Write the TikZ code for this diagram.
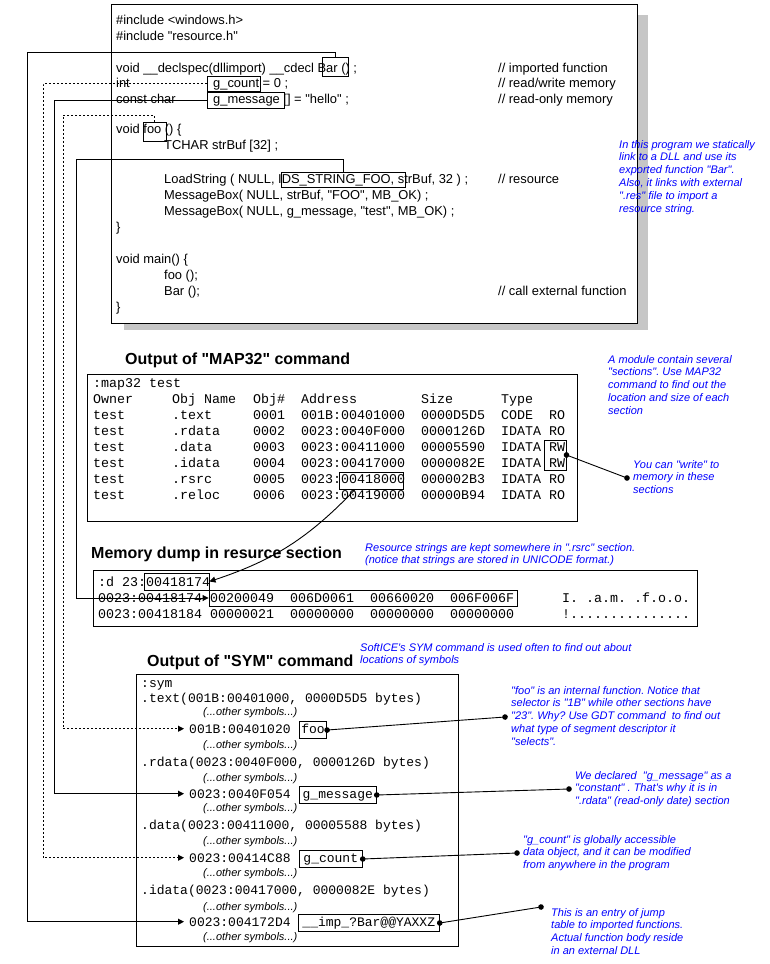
\documentclass[tikz,border=0pt]{standalone}
\usepackage{fontspec}
\setmainfont{Liberation Sans}[Ligatures=TeXOff]
\setmonofont{Liberation Mono}
\usepackage{tikz}
\usepackage{xcolor}
\usetikzlibrary{calc,arrows.meta,positioning,fit}
\definecolor{noteblue}{HTML}{0000FF}
\definecolor{shadowgray}{HTML}{C6C6C6}
\newcommand\codesf{\fontsize{12.9}{15}\selectfont}
\newcommand\maptt{\ttfamily\fontsize{13.33}{16}\selectfont}
\newcommand\symtt{\ttfamily\fontsize{13}{16}\selectfont}
\frenchspacing

\tikzset{
  codetext/.style={anchor=base west, inner sep=0pt, font=\codesf},
  maptext/.style={anchor=base west, inner sep=0pt, font=\maptt},
  symtext/.style={anchor=base west, inner sep=0pt, font=\symtt},
  othertext/.style={anchor=base west, inner sep=0pt, font=\itshape\fontsize{11}{13}\selectfont},
  heading/.style={anchor=base west, inner sep=0pt, font=\bfseries\fontsize{16}{19}\selectfont},
  note/.style={anchor=north west, inner sep=0pt, align=left, text=noteblue, font=\itshape\fontsize{11}{12.8}\selectfont},
  frame/.style={draw, line width=0.9pt},
  markbox/.style={draw, line width=0.9pt, inner sep=0pt},
  symbox/.style={draw, line width=0.9pt, inner xsep=2pt, inner ysep=2.5pt, minimum height=17pt, text height=9pt, text depth=3pt, font=\symtt},
  link/.style={line width=0.9pt, -{Triangle[length=6pt,width=6pt]}},
  dashlink/.style={link, dash pattern=on 2pt off 2pt},
  pinline/.style={line width=0.9pt, {Circle[length=5.5pt]}-{Circle[length=5.5pt]}, shorten <=-2.75pt, shorten >=-2.75pt}
}

\begin{document}
\begin{tikzpicture}[x=1pt,y=-1pt]
  \useasboundingbox (0,0) rectangle (770,964);

  \fill[shadowgray] (124,15) rectangle (648,330);
  \draw[frame, fill=white] (111,4) rectangle (637,323);

  \node[codetext] (incWin) at (116,24) {\#include <windows.h>};
  \node[codetext] (incRes) at (116,40) {\#include "resource.h"};
  \node[codetext] (declBar) at (116,72) {void \_\_declspec(dllimport) \_\_cdecl Bar () ;};
  \node[codetext] (declInt) at (116,87) {int};
  \node[codetext] (declCount) at (213,87) {g\_count = 0 ;};
  \node[codetext] (declConst) at (116,103) {const char};
  \node[codetext] (declMsg) at (213,103) {g\_message [] = "hello" ;};
  \node[codetext] (fooHead) at (116,133) {void foo () \{};
  \node[codetext] (fooBuf) at (164,149) {TCHAR strBuf [32] ;};
  \node[codetext] (fooLoad) at (164,183) {LoadString ( NULL, IDS\_STRING\_FOO, strBuf, 32 ) ;};
  \node[codetext] (fooBoxA) at (164,199) {MessageBox( NULL, strBuf, "FOO", MB\_OK) ;};
  \node[codetext] (fooBoxB) at (164,215) {MessageBox( NULL, g\_message, "test", MB\_OK) ;};
  \node[codetext] (fooEnd) at (116,231) {\}};
  \node[codetext] (mainHead) at (116,263) {void main() \{};
  \node[codetext] (mainFoo) at (164,279) {foo ();};
  \node[codetext] (mainBar) at (164,295) {Bar ();};
  \node[codetext] (mainEnd) at (116,311) {\}};

  \node[codetext] (cmtImp) at (498,72) {// imported function};
  \node[codetext] (cmtRW) at (498,87) {// read/write memory};
  \node[codetext] (cmtRO) at (498,103) {// read-only memory};
  \node[codetext] (cmtRes) at (498,183) {// resource};
  \node[codetext] (cmtCall) at (498,295) {// call external function};

  \node[markbox, fit={(322,57) (348,76)}] (cBar) {};
  \node[markbox, fit={(207,76) (260,91)}] (cCount) {};
  \node[markbox, fit={(207,92) (284,108)}] (cMsg) {};
  \node[markbox, fit={(143,122) (166,141)}] (cFoo) {};
  \node[markbox, fit={(281,172) (405,187)}] (cIds) {};

  \node[heading] (mapTitle) at (125,364) {Output of "MAP32" command};
  \draw[frame] (87,374) rectangle (577,521);
  \node[maptext] (mapCmd) at (93,387) {:map32 test};
  \foreach \own/\obj/\num/\adr/\siz/\typ/\acc [count=\r from 0] in {
      Owner/Obj Name/Obj\#/Address/Size/Type/{},
      test/.text/0001/001B:00401000/0000D5D5/CODE/RO,
      test/.rdata/0002/0023:0040F000/0000126D/IDATA/RO,
      test/.data/0003/0023:00411000/00005590/IDATA/RW,
      test/.idata/0004/0023:00417000/0000082E/IDATA/RW,
      test/.rsrc/0005/0023:00418000/000002B3/IDATA/RO,
      test/.reloc/0006/0023:00419000/00000B94/IDATA/RO}{
    \node[maptext] (mOwn\r) at (93,403+16*\r) {\own};
    \node[maptext] (mObj\r) at (172,403+16*\r) {\obj};
    \node[maptext] (mNum\r) at (253,403+16*\r) {\num};
    \node[maptext] (mAdr\r) at (301,403+16*\r) {\adr};
    \node[maptext] (mSiz\r) at (421,403+16*\r) {\siz};
    \node[maptext] (mTyp\r) at (501,403+16*\r) {\typ};
    \node[maptext] (mAcc\r) at (549,403+16*\r) {\acc};
  }
  \node[markbox, fit={(339,472) (403,489)}] (mRsrc) {};
  \node[markbox, fit={(544,440) (566,470)}] (mRW) {};

  \node[heading] (dumpTitle) at (91,558) {Memory dump in resurce section};
  \draw[frame] (93,570) rectangle (697,626);
  \node[maptext] (dCmd) at (98,586) {:d 23:00418174};
  \node[maptext] (dAdrA) at (98,602) {0023:00418174};
  \node[maptext] (dA1) at (210,602) {00200049};
  \node[maptext] (dA2) at (290,602) {006D0061};
  \node[maptext] (dA3) at (370,602) {00660020};
  \node[maptext] (dA4) at (450,602) {006F006F};
  \node[maptext] (dAscA) at (562,602) {I. .a.m. .f.o.o.};
  \node[maptext] (dAdrB) at (98,618) {0023:00418184};
  \node[maptext] (dB1) at (210,618) {00000021};
  \node[maptext] (dB2) at (290,618) {00000000};
  \node[maptext] (dB3) at (370,618) {00000000};
  \node[maptext] (dB4) at (450,618) {00000000};
  \node[maptext] (dAscB) at (562,618) {!...............};
  \node[markbox, fit={(144,573) (209,590)}] (dAddr) {};
  \node[markbox, fit={(209,590) (517,606)}] (dData) {};

  \node[heading] (symTitle) at (147,666) {Output of "SYM" command};
  \draw[frame] (136,674) rectangle (458,946);
  \node[symtext] (sCmd) at (141,687) {:sym};
  \node[symtext] (sText) at (141,702) {.text(001B:00401000, 0000D5D5 bytes)};
  \node[othertext] (oTextA) at (203,715) {(...other symbols...)};
  \node[symtext] (aFoo) at (189,733) {001B:00401020};
  \node[symbox, base right=8pt of aFoo, minimum width=27pt] (sFoo) {foo};
  \node[othertext] (oTextB) at (203,748) {(...other symbols...)};
  \node[symtext] (sRdata) at (141,766) {.rdata(0023:0040F000, 0000126D bytes)};
  \node[othertext] (oRdataA) at (203,781) {(...other symbols...)};
  \node[symtext] (aMsg) at (189,798) {0023:0040F054};
  \node[symbox, base right=8pt of aMsg, minimum width=77pt] (sMsg) {g\_message};
  \node[othertext] (oRdataB) at (203,811) {(...other symbols...)};
  \node[symtext] (sData) at (141,829) {.data(0023:00411000, 00005588 bytes)};
  \node[othertext] (oDataA) at (203,844) {(...other symbols...)};
  \node[symtext] (aCount) at (189,862) {0023:00414C88};
  \node[symbox, base right=8pt of aCount, minimum width=63pt] (sCount) {g\_count};
  \node[othertext] (oDataB) at (203,876) {(...other symbols...)};
  \node[symtext] (sIdata) at (141,894) {.idata(0023:00417000, 0000082E bytes)};
  \node[othertext] (oIdataA) at (203,910) {(...other symbols...)};
  \node[symtext] (aImp) at (189,926) {0023:004172D4};
  \node[symbox, base right=7pt of aImp, minimum width=141pt] (sImp) {\_\_imp\_?Bar@@YAXXZ};
  \node[othertext] (oIdataB) at (203,940) {(...other symbols...)};

  \coordinate (railBar) at (27,52);
  \coordinate (railCount) at (43,84);
  \coordinate (railMsg) at (54,100);
  \coordinate (railFoo) at (63,115);
  \coordinate (railIds) at (76,159);
  \draw[link, shorten >=5pt] (cBar.north) |- (railBar) |- (aImp.west);
  \draw[dashlink, shorten >=5pt] (cCount.west) -| (railCount) |- (aCount.west);
  \draw[link, shorten >=5pt] (cMsg.west) -| (railMsg) |- (aMsg.west);
  \draw[dashlink, shorten >=5pt] (cFoo.north) |- (railFoo) |- (aFoo.west);
  \draw[link] (cIds.north) |- (railIds) |- (dData.west);
  \draw[link] ($(mRsrc.south)+(-16,0)$) to[bend left=14] (dAddr.east);

  \coordinate (kWrite) at (627,478);
  \coordinate (kFoo) at (505,717);
  \coordinate (kMsg) at (569,789);
  \coordinate (kCount) at (517,853);
  \coordinate (kImp) at (541,907);
  \draw[pinline] (mRW.east) -- (kWrite);
  \draw[pinline] (sFoo.east) -- (kFoo);
  \draw[pinline] (sMsg.east) -- (kMsg);
  \draw[pinline] (sCount.east) -- (kCount);
  \draw[pinline] (sImp.east) -- (kImp);

  \node[note] (noteProg) at (619,140) {In this program we statically\\link to a DLL and use its\\exported function "Bar".\\Also, it links with external\\".res" file to import a\\resource string.};
  \node[note] (noteMap) at (608,355) {A module contain several\\"sections". Use MAP32\\command to find out the\\location and size of each\\section};
  \node[note] (noteWrite) at (633,460) {You can "write" to\\memory in these\\sections};
  \node[note] (noteRsrc) at (365,543) {Resource strings are kept somewhere in ".rsrc" section.\\(notice that strings are stored in UNICODE format.)};
  \node[note] (noteSym) at (360,643) {SoftICE's SYM command is used often to find out about\\locations of symbols};
  \node[note] (noteFoo) at (511,686) {"foo" is an internal function. Notice that\\selector is "1B" while other sections have\\"23". Why? Use GDT command\ \ to find out\\what type of segment descriptor it\\"selects".};
  \node[note] (noteMsg) at (575,771) {We declared\ \ "g\_message" as a\\"constant" . That's why it is in\\".rdata" (read-only date) section};
  \node[note] (noteCount) at (523,835) {"g\_count" is globally accessible\\data object, and it can be modified\\from anywhere in the program};
  \node[note] (noteImp) at (551,908) {This is an entry of jump\\table to imported functions.\\Actual function body reside\\in an external DLL};
\end{tikzpicture}
\end{document}
